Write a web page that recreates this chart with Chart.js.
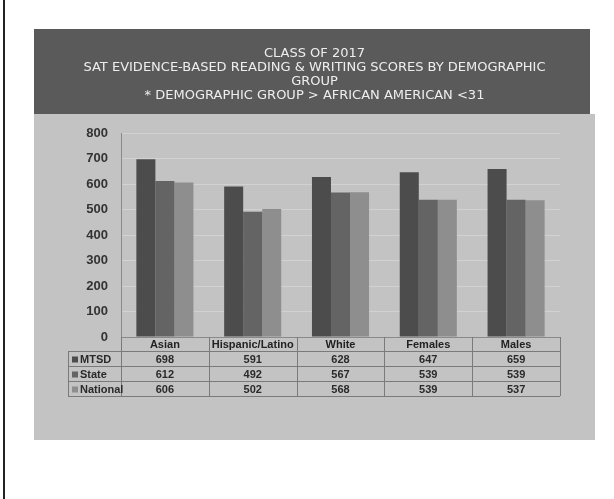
<!DOCTYPE html>
<html>
<head>
<meta charset="utf-8">
<script src="https://cdn.jsdelivr.net/npm/chart.js@4.4.1/dist/chart.umd.min.js"></script>
<style>
  body { margin: 0; background: #fff; width: 614px; height: 499px; overflow: hidden; }
  #edge { position: absolute; left: 3px; top: 0; width: 2px; height: 499px; background: #222; }
  #box { position: absolute; left: 34px; top: 29px; width: 561px; height: 411px; }
</style>
</head>
<body>
<div id="edge"></div>
<div id="box"><canvas id="satChart" width="561" height="411"></canvas></div>
<script>
var groups = ['Asian', 'Hispanic/Latino', 'White', 'Females', 'Males'];
var seriesNames = ['MTSD', 'State', 'National'];
var mtsd = [698, 591, 628, 647, 659];
var state = [612, 492, 567, 539, 539];
var national = [606, 502, 568, 539, 537];
var yTicks = [0, 100, 200, 300, 400, 500, 600, 700, 800];
var titleLines = [
    'CLASS OF 2017',
    'SAT EVIDENCE-BASED READING & WRITING SCORES BY DEMOGRAPHIC',
    'GROUP',
    '* DEMOGRAPHIC GROUP > AFRICAN AMERICAN <31'
];

var barColors = ['#4c4c4c', '#646464', '#8e8e8e'];

// gray panels behind the chart, dark band for the title
var panels = {
    id: 'panels',
    beforeDraw: function(chart) {
        var c = chart.ctx;
        c.save();
        c.fillStyle = '#c3c3c3';
        c.fillRect(0, 85, chart.width, chart.height - 85);
        c.fillStyle = '#5a5a5a';
        c.fillRect(0, 0, chart.width - 5, 85);
        c.restore();
    }
};

// data table under the x axis
var dataTable = {
    id: 'dataTable',
    afterDraw: function(chart) {
        var c = chart.ctx;
        var x = chart.scales.x;
        var area = chart.chartArea;
        var step = x.getPixelForValue(1) - x.getPixelForValue(0);
        var left = 34, right = area.right;
        var top = area.bottom + 14, rowH = 15;
        c.save();
        c.strokeStyle = '#7a7a7a';
        c.lineWidth = 1;
        c.beginPath();
        for (var r = 0; r <= seriesNames.length; r++) {
            c.moveTo(left, top + r * rowH + 0.5);
            c.lineTo(right, top + r * rowH + 0.5);
        }
        c.moveTo(left + 0.5, top);
        c.lineTo(left + 0.5, top + seriesNames.length * rowH);
        for (var i = 0; i <= groups.length; i++) {
            var gx = Math.round(area.left + i * step) + 0.5;
            c.moveTo(gx, area.bottom);
            c.lineTo(gx, top + seriesNames.length * rowH);
        }
        c.stroke();
        c.font = 'bold 11px "Liberation Sans", Arial, sans-serif';
        c.textBaseline = 'middle';
        chart.data.datasets.forEach(function(ds, d) {
            var cy = top + d * rowH + rowH / 2 + 1;
            c.fillStyle = ds.backgroundColor;
            c.fillRect(left + 4, cy - 3, 6, 6);
            c.fillStyle = '#2a2a2a';
            c.textAlign = 'left';
            c.fillText(ds.label, left + 12, cy);
            c.textAlign = 'center';
            ds.data.forEach(function(v, j) {
                c.fillText(String(v), x.getPixelForValue(j), cy);
            });
        });
        c.restore();
    }
};

new Chart(document.getElementById('satChart'), {
    type: 'bar',
    data: {
        labels: groups,
        datasets: [
            {label: seriesNames[0], data: mtsd, backgroundColor: barColors[0]},
            {label: seriesNames[1], data: state, backgroundColor: barColors[1]},
            {label: seriesNames[2], data: national, backgroundColor: barColors[2]}
        ]
    },
    options: {
        responsive: false,
        animation: false,
        layout: {padding: 0},
        categoryPercentage: 0.65,
        barPercentage: 1.0,
        plugins: {
            legend: {display: false},
            tooltip: {enabled: false},
            title: {
                display: true,
                text: titleLines,
                color: '#eeeeee',
                font: {family: '"DejaVu Sans", sans-serif', size: 13, weight: 'normal', lineHeight: 1.1},
                padding: {top: 17, bottom: 30}
            }
        },
        scales: {
            x: {
                grid: {display: false, drawTicks: false},
                border: {display: true, color: '#8a8a8a'},
                ticks: {
                    color: '#222', padding: 1, maxRotation: 0, minRotation: 0, autoSkip: false,
                    font: {family: '"Liberation Sans", Arial, sans-serif', size: 11, weight: 'bold'}
                },
                afterFit: function(scale) { scale.height = 103; }
            },
            y: {
                min: 0,
                max: 800,
                afterBuildTicks: function(scale) {
                    scale.ticks = yTicks.map(function(v) { return {value: v}; });
                },
                grid: {color: '#d2d2d2', drawTicks: false},
                border: {display: true, color: '#8a8a8a'},
                ticks: {color: '#333', padding: 13, font: {family: '"Liberation Sans", Arial, sans-serif', size: 13, weight: 'bold'}},
                afterFit: function(scale) { scale.width = 87; }
            },
            // empty right-hand spacer so the title stays centred on the whole box
            spacer: {
                position: 'right',
                min: 0,
                max: 800,
                grid: {display: false, drawTicks: false},
                border: {display: false},
                ticks: {display: false},
                afterFit: function(scale) { scale.width = 35; }
            }
        }
    },
    plugins: [panels, dataTable]
});
</script>
</body>
</html>
